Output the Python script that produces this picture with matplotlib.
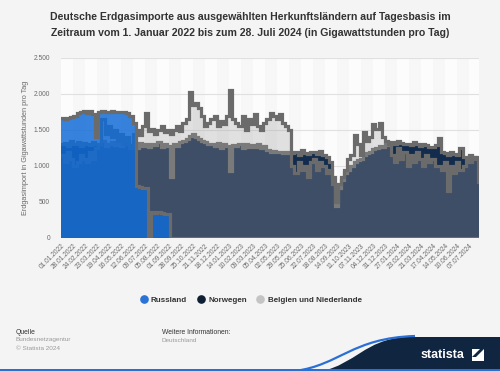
import numpy as np
import pandas as pd
import matplotlib
matplotlib.use('Agg')
import matplotlib.pyplot as plt
from matplotlib.lines import Line2D
from matplotlib.patches import PathPatch, Rectangle, Polygon
from matplotlib.path import Path

plt.rcParams['font.family'] = ['Liberation Sans', 'DejaVu Sans']

# ---------------- data (weekly readings, GWh per day) ----------------
start_date = '2022-01-01'
end_date = '2024-07-28'

russland = [
    1660, 1650, 1670, 1680, 1700, 1730, 1750, 1760, 1740, 1770,
    1720, 1400, 1750, 1760, 1750, 1750, 1760, 1750, 1750, 1750,
    1750, 1740, 1700, 1600, 720, 710, 700, 700, 0, 360,
    350, 360, 350, 340, 340, 0, 0, 0, 0, 0,
    0, 0, 0, 0, 0, 0, 0, 0, 0, 0,
    0, 0, 0, 0, 0, 0, 0, 0, 0, 0,
    0, 0, 0, 0, 0, 0, 0, 0, 0, 0,
    0, 0, 0, 0, 0, 0, 0, 0, 0, 0,
    0, 0, 0, 0, 0, 0, 0, 0, 0, 0,
    0, 0, 0, 0, 0, 0, 0, 0, 0, 0,
    0, 0, 0, 0, 0, 0, 0, 0, 0, 0,
    0, 0, 0, 0, 0, 0, 0, 0, 0, 0,
    0, 0, 0, 0, 0, 0, 0, 0, 0, 0,
    0, 0, 0, 0, 0,
]

norwegen = [
    1300, 1320, 1280, 1350, 1300, 1330, 1280, 1320, 1300, 1290,
    1340, 1310, 1300, 1350, 1280, 1300, 1330, 1290, 1310, 1280,
    1300, 1320, 1290, 1300, 1250, 1320, 1280, 1300, 1260, 1310,
    1290, 1330, 1270, 1300, 1280, 850, 1300, 1280, 1330, 1350,
    1380, 1420, 1450, 1400, 1380, 1350, 1330, 1300, 1300, 1280,
    1320, 1250, 1300, 1280, 930, 1290, 1280, 1300, 1250, 1310,
    1270, 1290, 1260, 1300, 1250, 1280, 1220, 1200, 1210, 1190,
    1200, 1180, 1200, 1180, 1180, 1200, 1150, 1220, 1180, 1160,
    1200, 1190, 1170, 1210, 1150, 1120, 1050, 850, 440, 700,
    800, 900, 950, 1000, 1050, 1080, 1100, 1150, 1180, 1200,
    1230, 1250, 1280, 1270, 1300, 1290, 1330, 1300, 1350, 1320,
    1300, 1310, 1290, 1330, 1300, 1280, 1310, 1290, 1270, 1260,
    1290, 1390, 1200, 1180, 1150, 1200, 1170, 1150, 1250, 1130,
    1120, 1150, 1110, 1130, 1100,
]

belgien_nl = [
    1150, 1050, 1200, 1100, 1000, 1050, 1150, 1100, 1050, 1200,
    1100, 1250, 1300, 1650, 1450, 1550, 1400, 1500, 1350, 1450,
    1300, 1400, 1250, 1450, 1500, 1430, 1550, 1740, 1480, 1520,
    1450, 1500, 1550, 1470, 1500, 1450, 1500, 1550, 1480, 1600,
    1650, 2030, 1850, 1880, 1800, 1700, 1550, 1600, 1650, 1700,
    1550, 1620, 1580, 1700, 2050, 1650, 1600, 1550, 1700, 1500,
    1650, 1580, 1720, 1550, 1500, 1600, 1650, 1730, 1700, 1650,
    1720, 1600, 1550, 1500, 1000, 900, 1050, 950, 1000, 850,
    1050, 1100, 950, 1050, 1000, 900, 950, 750, 500, 750,
    850, 950, 1100, 1150, 1430, 1300, 1150, 1470, 1350, 1400,
    1580, 1520, 1600, 1400, 1350, 1300, 1150, 1050, 1250, 1100,
    1200, 1000, 1150, 1050, 1200, 1100, 1000, 1150, 1050, 1100,
    1000, 1000, 950, 1050, 650, 1000, 900, 1050, 950, 1000,
    1100, 1050, 1120, 1100, 780,
]

series_names = ['Russland', 'Norwegen', 'Belgien und Niederlande']

tick_labels = [
    '01.01.2022', '28.01.2022', '24.02.2022', '23.03.2022', '19.04.2022',
    '16.05.2022', '12.06.2022', '09.07.2022', '05.08.2022', '01.09.2022',
    '28.09.2022', '25.10.2022', '21.11.2022', '18.12.2022', '14.01.2023',
    '10.02.2023', '09.03.2023', '05.04.2023', '02.05.2023', '29.05.2023',
    '25.06.2023', '22.07.2023', '18.08.2023', '14.09.2023', '11.10.2023',
    '07.11.2023', '04.12.2023', '31.12.2023', '27.01.2024', '23.02.2024',
    '21.03.2024', '17.04.2024', '14.05.2024', '10.06.2024', '07.07.2024',
]
y_ticks = [0, 500, 1000, 1500, 2000, 2500]
y_tick_labels = ['0', '500', '1.000', '1.500', '2.000', '2.500']

# ---------------- geometry ----------------
W, H = 500, 371
fig = plt.figure(figsize=(W / 100, H / 100), dpi=100)
BG = '#f4f4f4'
fig.patch.set_facecolor(BG)

def fx(px):
    return px / W

def fy(py):
    return 1 - py / H

ax = fig.add_axes([fx(61), fy(238), fx(479) - fx(61), fy(58) - fy(238)])
ax.set_facecolor('#f7f7f7')

t0 = pd.Timestamp(start_date)
t_end = pd.Timestamp(end_date)
dates = pd.date_range(t0, periods=len(norwegen), freq='7D')
x = np.asarray((dates - t0).days, dtype=float)
x_end = float((t_end - t0).days) + 1
xe = np.append(x, x_end)

def ext(v):
    v = np.asarray(v, dtype=float)
    return np.append(v, v[-1])

tick_pos = [(pd.to_datetime(t, format='%d.%m.%Y') - t0).days for t in tick_labels]

# alternating vertical bands
for i in range(0, len(tick_pos), 2):
    a = tick_pos[i]
    b = tick_pos[i + 1] if i + 1 < len(tick_pos) else x_end
    ax.axvspan(a, b, color='#fcfcfc', zorder=0, lw=0)

for yv in y_ticks[1:]:
    ax.axhline(yv, color='#e0e0e0', lw=0.8, zorder=0.5)

EDGE = '#6b6b6b'
LW = 2.3

# Norwegen
ax.fill_between(xe, 0, ext(norwegen), step='post', color='#132c4d', lw=0, zorder=2)
ax.plot(xe, ext(norwegen), drawstyle='steps-post', color=EDGE, lw=LW, zorder=2.1,
        solid_joinstyle='miter')
# Belgien und Niederlande
ax.fill_between(xe, 0, ext(belgien_nl), step='post', color='#a0a0a0', alpha=0.3, lw=0, zorder=3)
ax.plot(xe, ext(belgien_nl), drawstyle='steps-post', color=EDGE, lw=LW, zorder=3.1,
        solid_joinstyle='miter')
# Russland
ax.fill_between(xe, 0, ext(russland), step='post', color='#106bd7', alpha=0.84, lw=0, zorder=4)
ax.plot(xe, ext(russland), drawstyle='steps-post', color=EDGE, lw=LW, zorder=4.1,
        solid_joinstyle='miter')

ax.set_xlim(0, x_end)
ax.set_ylim(0, 2500)
ax.set_yticks(y_ticks)
ax.set_yticklabels(y_tick_labels)
ax.set_xticks(tick_pos)
ax.set_xticklabels(tick_labels, rotation=45, ha='right', rotation_mode='anchor')
ax.tick_params(axis='both', length=0, labelsize=4.8, colors='#6a6a6a')
ax.tick_params(axis='x', pad=3)
ax.tick_params(axis='y', pad=8)
for s in ax.spines.values():
    s.set_visible(False)

ax.set_ylabel('Erdgasimport in Gigawattstunden pro Tag', fontsize=5.3, color='#6a6a6a', labelpad=3)

# title
fig.text(0.5, fy(17), 'Deutsche Erdgasimporte aus ausgewählten Herkunftsländern auf Tagesbasis im',
         ha='center', va='center', fontsize=7.6, fontweight='bold', color='#333333')
fig.text(0.5, fy(33), 'Zeitraum vom 1. Januar 2022 bis zum 28. Juli 2024 (in Gigawattstunden pro Tag)',
         ha='center', va='center', fontsize=7.6, fontweight='bold', color='#333333')

# legend
handles = [
    Line2D([], [], marker='o', ls='', ms=5.2, mfc='#2a72d5', mec='#2a72d5'),
    Line2D([], [], marker='o', ls='', ms=5.2, mfc='#0e1f33', mec='#0e1f33'),
    Line2D([], [], marker='o', ls='', ms=5.2, mfc='#c4c4c4', mec='#c4c4c4'),
]
fig.legend(handles, series_names, loc='center', bbox_to_anchor=(fx(251), fy(300)), ncol=3,
           frameon=False, handlelength=0.8, handletextpad=0.5, columnspacing=1.3,
           prop={'size': 5.8, 'weight': 'bold'}, labelcolor='#333333')

# footer
fig.text(fx(16), fy(332), 'Quelle', fontsize=4.9, color='#333333', va='center')
fig.text(fx(16), fy(340), 'Bundesnetzagentur', fontsize=4.6, color='#9a9a9a', va='center')
fig.text(fx(16), fy(348), '© Statista 2024', fontsize=4.6, color='#9a9a9a', va='center')
fig.text(fx(162), fy(332), 'Weitere Informationen:', fontsize=4.9, color='#333333', va='center')
fig.text(fx(162), fy(340), 'Deutschland', fontsize=4.6, color='#9a9a9a', va='center')

# statista logo wave
verts = [(fx(322), fy(371)), (fx(355), fy(364)), (fx(365), fy(340)), (fx(405), fy(337)),
         (fx(500), fy(337)), (fx(500), fy(371)), (fx(322), fy(371))]
codes = [Path.MOVETO, Path.CURVE4, Path.CURVE4, Path.CURVE4, Path.LINETO, Path.LINETO, Path.CLOSEPOLY]
fig.patches.append(PathPatch(Path(verts, codes), transform=fig.transFigure,
                             facecolor='#0f2540', edgecolor='none', zorder=1))
verts2 = [(fx(295), fy(371)), (fx(340), fy(365)), (fx(352), fy(338)), (fx(415), fy(336))]
codes2 = [Path.MOVETO, Path.CURVE4, Path.CURVE4, Path.CURVE4]
fig.patches.append(PathPatch(Path(verts2, codes2), transform=fig.transFigure,
                             facecolor='none', edgecolor='#2a6fd6', lw=1.6, zorder=1.1))
fig.patches.append(Rectangle((0, fy(371)), 1, 2 / H, transform=fig.transFigure,
                             facecolor='#2a6fd6', edgecolor='none', zorder=1.2))
fig.text(fx(421), fy(355), 'statista', fontsize=9.0, fontweight='bold', color='white',
         va='center', ha='left', zorder=2)
fig.patches.append(Rectangle((fx(472), fy(361)), 12 / W, 12 / H, transform=fig.transFigure,
                             facecolor='white', edgecolor='none', zorder=2))
fig.patches.append(Polygon([(fx(472), fy(357)), (fx(480), fy(349)), (fx(484), fy(349)),
                            (fx(476), fy(357))], closed=True, transform=fig.transFigure,
                           facecolor='#0f2540', edgecolor='none', zorder=2.1))

fig.savefig('out.png', dpi=100, facecolor=BG)
